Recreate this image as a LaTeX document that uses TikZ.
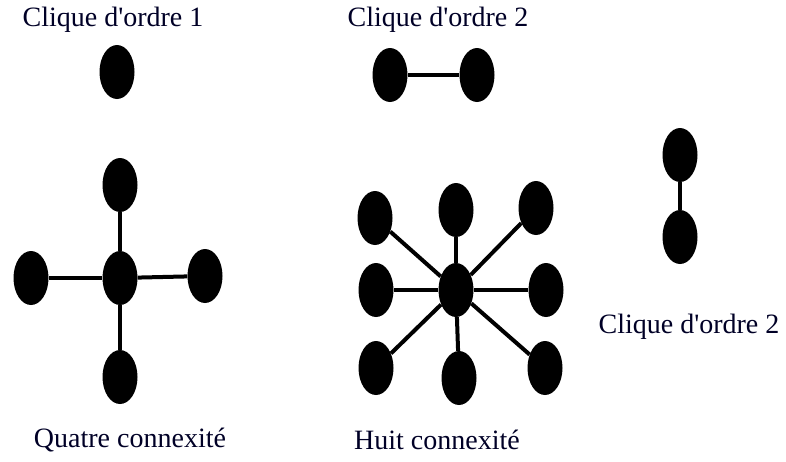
\documentclass[tikz,border=0pt]{standalone}
\usepackage{fontspec}
\setmainfont{Liberation Serif}[Ligatures=TeXOff]
\usetikzlibrary{shapes.geometric}
\tikzset{
  dot/.style={ellipse,fill=black,draw=none,minimum width=35pt,minimum height=54pt,inner sep=0pt},
  link/.style={line width=4pt,black},
  lbl/.style={font=\fontsize{28}{31}\selectfont,inner sep=0pt,text=black!85!blue}
}
\begin{document}
\begin{tikzpicture}[x=1pt,y=-1pt]
\useasboundingbox (0,0) rectangle (786,461);
% labels
\node[lbl] (t1) at (113,20) {Clique d'ordre 1};
\node[lbl] (t2) at (438,20) {Clique d'ordre 2};
\node[lbl] (t3) at (689,327) {Clique d'ordre 2};
\node[lbl] (t4) at (130,440) {Quatre connexité};
\node[lbl] (t5) at (437,440) {Huit connexité};
% clique 1
\node[dot] (s) at (117,72) {};
% clique 2 horizontal
\node[dot] (ha) at (390,75) {};
\node[dot] (hb) at (477,75) {};
\draw[link] (ha) -- (hb);
% clique 2 vertical
\node[dot] (va) at (680,155) {};
\node[dot] (vb) at (680,237) {};
\draw[link] (va) -- (vb);
% four connectivity
\node[dot] (qc) at (120,278) {};
\node[dot] (qt) at (120,185) {};
\node[dot] (ql) at (31,278) {};
\node[dot] (qr) at (205,276) {};
\node[dot] (qb) at (120,377) {};
\draw[link] (qc) -- (qt);
\draw[link] (qc) -- (qb);
\draw[link] (ql) -- (qc);
\draw[link] (qc) -- (qr);
% eight connectivity
\node[dot] (hc) at (456,290) {};
\node[dot] (h1) at (375,218) {};
\node[dot] (h2) at (456,210) {};
\node[dot] (h3) at (536,208) {};
\node[dot] (h4) at (376,290) {};
\node[dot] (h5) at (546,290) {};
\node[dot] (h6) at (376,368) {};
\node[dot] (h7) at (459,378) {};
\node[dot] (h8) at (545,368) {};
\foreach \n in {h1,h2,h3,h4,h5,h6,h7,h8} \draw[link] (hc) -- (\n);
\end{tikzpicture}
\end{document}
